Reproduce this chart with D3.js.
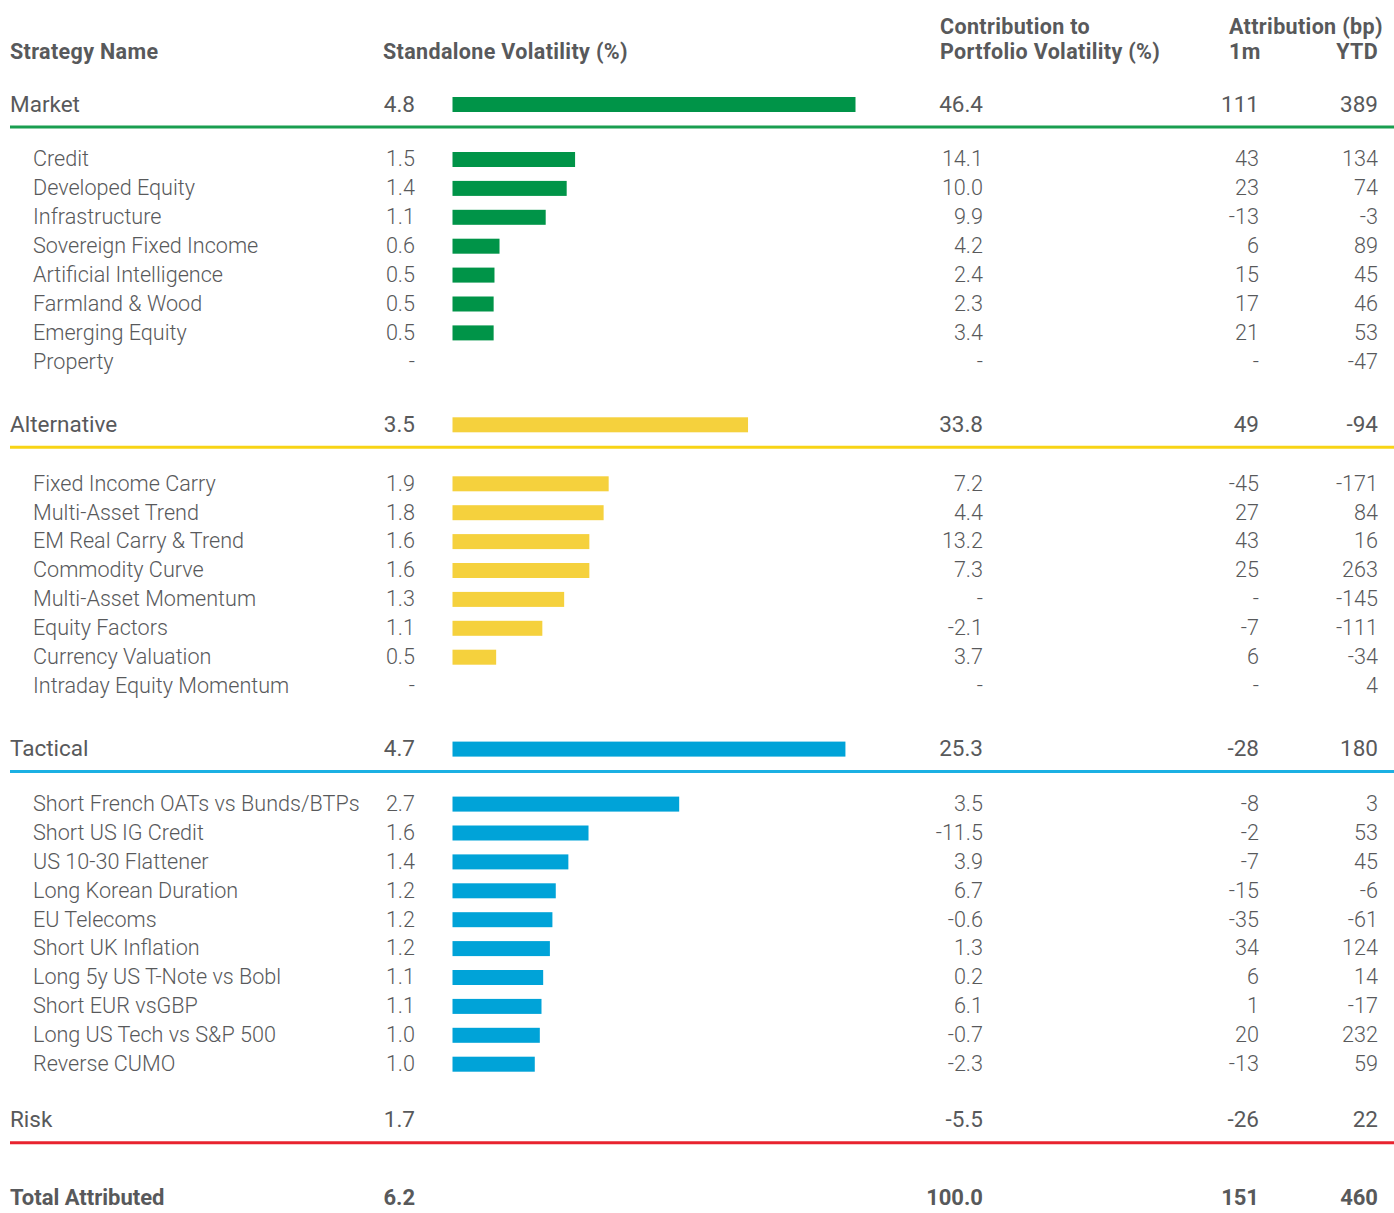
<!DOCTYPE html>
<html>
<head>
<meta charset="utf-8">
<script src="https://cdn.jsdelivr.net/npm/d3@7"></script>
<style>
  body { margin: 0; background: #fff; }
  text { font-family: Roboto, "Liberation Sans", sans-serif; fill: #58595b; }
</style>
</head>
<body>
<div id="chart"></div>
<script>
// ---- data ----
const groupNames = ["Market", "Alternative", "Tactical", "Risk"];
const groupVol = [4.80, 3.52, 4.68, 1.7];
const groupContrib = [46.4, 33.8, 25.3, -5.5];
const group1m = [111, 49, -28, -26];
const groupYtd = [389, -94, 180, 22];

const marketNames = ["Credit", "Developed Equity", "Infrastructure", "Sovereign Fixed Income",
  "Artificial Intelligence", "Farmland & Wood", "Emerging Equity", "Property"];
const marketVol = [1.46, 1.36, 1.11, 0.56, 0.50, 0.49, 0.49, null];
const marketContrib = [14.1, 10.0, 9.9, 4.2, 2.4, 2.3, 3.4, null];
const market1m = [43, 23, -13, 6, 15, 17, 21, null];
const marketYtd = [134, 74, -3, 89, 45, 46, 53, -47];

const altNames = ["Fixed Income Carry", "Multi-Asset Trend", "EM Real Carry & Trend", "Commodity Curve",
  "Multi-Asset Momentum", "Equity Factors", "Currency Valuation", "Intraday Equity Momentum"];
const altVol = [1.86, 1.80, 1.63, 1.63, 1.33, 1.07, 0.52, null];
const altContrib = [7.2, 4.4, 13.2, 7.3, null, -2.1, 3.7, null];
const alt1m = [-45, 27, 43, 25, null, -7, 6, null];
const altYtd = [-171, 84, 16, 263, -145, -111, -34, 4];

const tacNames = ["Short French OATs vs Bunds/BTPs", "Short US IG Credit", "US 10-30 Flattener",
  "Long Korean Duration", "EU Telecoms", "Short UK Inflation", "Long 5y US T-Note vs Bobl",
  "Short EUR vsGBP", "Long US Tech vs S&P 500", "Reverse CUMO"];
const tacVol = [2.70, 1.62, 1.38, 1.23, 1.19, 1.16, 1.08, 1.06, 1.04, 0.98];
const tacContrib = [3.5, -11.5, 3.9, 6.7, -0.6, 1.3, 0.2, 6.1, -0.7, -2.3];
const tac1m = [-8, -2, -7, -15, -35, 34, 6, 1, 20, -13];
const tacYtd = [3, 53, 45, -6, -61, 124, 14, -17, 232, 59];

const totalLabel = "Total Attributed";
const totalVol = 6.2, totalContrib = 100.0, total1m = 151, totalYtd = 460;

// ---- styles ----
const barColors = ["#009448", "#f5d13d", "#00a3d8", null];
const lineColors = ["#1a9e50", "#f8d416", "#1bb0e3", "#e8232e"];

const width = 1394, height = 1213;
const col = { name: 10, sub: 33, vol: 415, bar: 452.5, contrib: 983, m1: 1259, ytd: 1378 };
const rowStep = 28.9;
const subOffset = [55, 59, 55];   // gap group row -> first sub row
const nextOffset = [63, 63, 56];  // gap last sub row -> next group row

const svg = d3.select("#chart").append("svg")
  .attr("width", width).attr("height", height);

const x = d3.scaleLinear().domain([0, 4.8]).range([0, 403]);
const fmt1 = v => v == null ? "-" : v.toFixed(1);
const fmt0 = v => v == null ? "-" : String(v);

// header
const hdr = svg.append("g").attr("font-weight", 700).attr("font-size", 21.5)
  .attr("letter-spacing", 0.35);
hdr.append("text").attr("x", col.name).attr("y", 59).text("Strategy Name");
hdr.append("text").attr("x", 383).attr("y", 59).text("Standalone Volatility (%)");
hdr.append("text").attr("x", 940).attr("y", 34).text("Contribution to");
hdr.append("text").attr("x", 940).attr("y", 59).text("Portfolio Volatility (%)");
hdr.append("text").attr("x", 1229).attr("y", 34).text("Attribution (bp)");
hdr.append("text").attr("x", 1229).attr("y", 59).text("1m");
hdr.append("text").attr("x", col.ytd).attr("y", 59).attr("text-anchor", "end").text("YTD");

function row(g, y, label, vol, contrib, m1, ytd, opts) {
  const r = g.append("g").attr("font-size", opts.size)
    .attr("font-weight", opts.weight);
  r.append("text").attr("x", opts.indent).attr("y", y).attr("dy", "0.34em").text(label);
  r.append("text").attr("x", col.vol).attr("y", y).attr("dy", "0.34em")
    .attr("text-anchor", "end").text(fmt1(vol));
  r.append("text").attr("x", col.contrib).attr("y", y).attr("dy", "0.34em")
    .attr("text-anchor", "end").text(fmt1(contrib));
  r.append("text").attr("x", col.m1).attr("y", y).attr("dy", "0.34em")
    .attr("text-anchor", "end").text(fmt0(m1));
  r.append("text").attr("x", col.ytd).attr("y", y).attr("dy", "0.34em")
    .attr("text-anchor", "end").text(fmt0(ytd));
  if (opts.color && vol != null) {
    g.append("rect").attr("x", col.bar).attr("y", y - 7)
      .attr("width", x(vol)).attr("height", 15).attr("fill", opts.color);
  }
}

const subs = [
  [marketNames, marketVol, marketContrib, market1m, marketYtd],
  [altNames, altVol, altContrib, alt1m, altYtd],
  [tacNames, tacVol, tacContrib, tac1m, tacYtd],
  null
];

let y = 104;
groupNames.forEach((name, i) => {
  const g = svg.append("g");
  row(g, y, name, groupVol[i], groupContrib[i], group1m[i], groupYtd[i],
    { indent: col.name, weight: 400, size: 22.5, color: barColors[i] });
  g.append("line").attr("x1", col.name).attr("x2", width)
    .attr("y1", y + 23).attr("y2", y + 23)
    .attr("stroke", lineColors[i]).attr("stroke-width", 3);
  const s = subs[i];
  if (s) {
    let sy = y + subOffset[i];
    s[0].forEach((n, j) => {
      row(g, sy, n, s[1][j], s[2][j], s[3][j], s[4][j],
        { indent: col.sub, weight: 300, size: 21.6, color: barColors[i] });
      sy += rowStep;
    });
    y = sy - rowStep + nextOffset[i];
  } else {
    y += 78;
  }
});

// total
row(svg.append("g"), y, totalLabel, totalVol, totalContrib, total1m, totalYtd,
  { indent: col.name, weight: 700, size: 22, color: null });
</script>
</body>
</html>
